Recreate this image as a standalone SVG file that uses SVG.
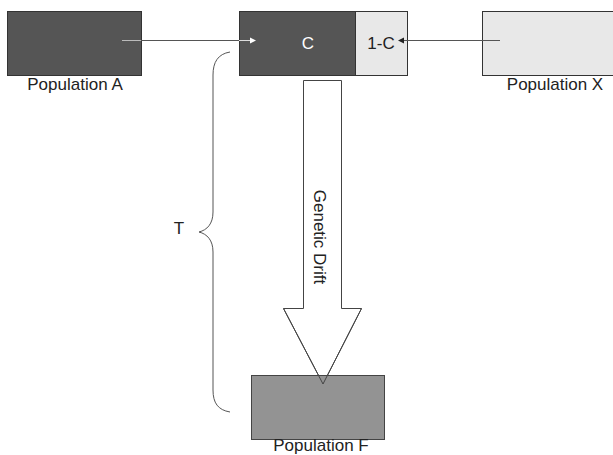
<svg xmlns="http://www.w3.org/2000/svg" width="613" height="455" viewBox="0 0 613 455">
<style>
text{font-family:"Liberation Sans",Arial,sans-serif;font-size:17px;fill:#222}
.dark{fill:#555555;stroke:#333;stroke-width:1}
.light{fill:#e8e8e8;stroke:#333;stroke-width:1}
.mid{fill:#939393;stroke:#444;stroke-width:1}
.ln{stroke:#555;stroke-width:1;fill:none}
</style>
<rect width="613" height="455" fill="#fff"/>
<g id="popA">
<rect class="dark" x="7.5" y="11.5" width="134" height="64"/>
<text x="75" y="90" text-anchor="middle">Population A</text>
</g>
<g id="popX">
<rect class="light" x="482.5" y="11.5" width="140" height="64"/>
<text x="555" y="90" text-anchor="middle">Population X</text>
</g>
<g id="mix">
<rect class="dark" x="239.5" y="11.5" width="116" height="64"/>
<rect class="light" x="355.5" y="11.5" width="52" height="64"/>
<text x="308" y="49" text-anchor="middle" style="fill:#fff">C</text>
<text x="381" y="49" text-anchor="middle">1-C</text>
</g>
<g id="drift">
<polygon points="303.5,80.5 341.5,80.5 341.5,308.5 361.5,308.5 323,384 283.5,308.5 303.5,308.5" fill="#fff" stroke="#444" stroke-width="1"/>
<text transform="translate(314,237) rotate(90)" text-anchor="middle">Genetic Drift</text>
</g>
<g id="popF">
<rect class="mid" x="251.5" y="375.5" width="133" height="64"/>
<polyline points="283.5,308.5 323,384 361.5,308.5" fill="none" stroke="#444" stroke-width="1"/>
<text x="321" y="451" text-anchor="middle">Population F</text>
</g>
<g id="brace">
<path class="ln" d="M230,52 C218,54 213,62 213,75 L213,212 C213,224 207,230 199,232 C207,234 213,240 213,252 L213,390 C213,403 218,410 230,412"/>
<text x="179" y="234" text-anchor="middle">T</text>
</g>
<g id="connectors">
<line x1="122" y1="40.5" x2="141" y2="40.5" stroke="#bbb" stroke-width="1"/>
<line x1="141" y1="40.5" x2="239" y2="40.5" stroke="#555" stroke-width="1"/>
<line x1="239" y1="40.5" x2="250" y2="40.5" stroke="#ddd" stroke-width="1"/>
<polygon points="250,37.5 256,40.5 250,43.5" fill="#fff"/>
<line x1="500" y1="40.5" x2="403" y2="40.5" stroke="#555" stroke-width="1"/>
<polygon points="404,37.5 398,40.5 404,43.5" fill="#222"/>
</g>
</svg>
